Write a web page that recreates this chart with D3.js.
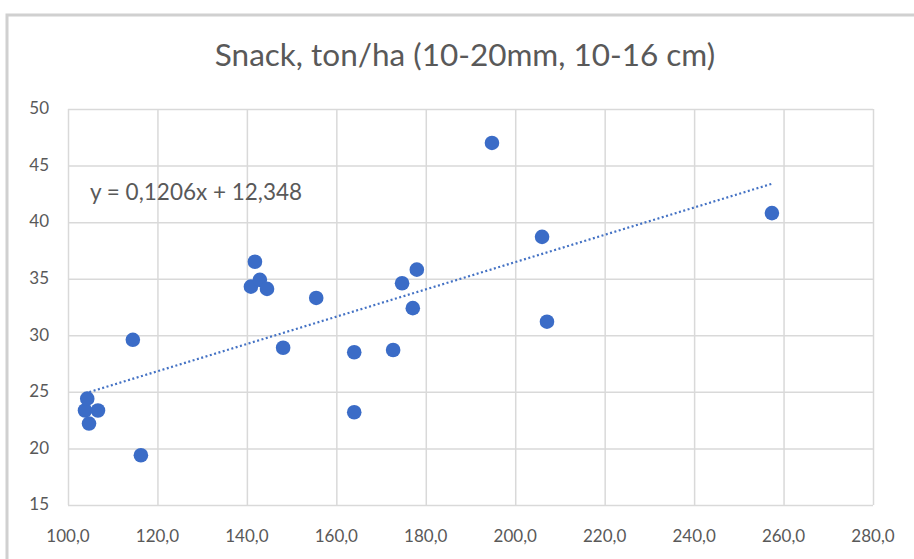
<!DOCTYPE html>
<html>
<head>
  <script src="https://d3js.org/d3.v7.min.js"></script>
  <style>
    body { margin: 0; background: #fff; }
    svg text { font-family: Lato, 'Open Sans', sans-serif; fill: #595959; }
  </style>
</head>
<body>
  <svg id="chart" width="914" height="559"></svg>
  <script>
    // Data
    const xValues = [103.8, 104.3, 104.7, 106.7, 114.5, 116.3, 140.9, 141.8, 142.9, 144.5, 148.1,
                     155.5, 164.0, 164.0, 172.7, 174.7, 177.1, 178.0, 194.8, 206.0, 207.1, 257.4];
    const yValues = [23.35, 24.4, 22.2, 23.35, 29.6, 19.4, 34.3, 36.5, 34.9, 34.1, 28.9,
                     33.3, 28.5, 23.2, 28.7, 34.6, 32.4, 35.8, 47.0, 38.7, 31.2, 40.8];
    const xTicks = [100, 120, 140, 160, 180, 200, 220, 240, 260, 280];
    const yTicks = [15, 20, 25, 30, 35, 40, 45, 50];
    const slope = 0.1206, intercept = 12.348;
    const title = "Snack, ton/ha (10-20mm, 10-16 cm)";
    const equation = "y = 0,1206x + 12,348";

    const svg = d3.select("#chart");
    const plotLeft = 68, plotRight = 873, plotTop = 109, plotBottom = 505;

    const x = d3.scaleLinear().domain([100, 280]).range([plotLeft, plotRight]);
    const y = d3.scaleLinear().domain([15, 50]).range([plotBottom, plotTop]);
    const fmt = d => d.toFixed(1).replace(".", ",");

    // chart frame (only top/left visible in the picture)
    svg.append("path")
      .attr("d", "M7,570 L7,15 L920,15")
      .attr("fill", "none")
      .attr("stroke", "#d0d0d0")
      .attr("stroke-width", 3);

    // gridlines
    svg.append("g")
      .attr("transform", `translate(0,${plotBottom})`)
      .call(d3.axisBottom(x).tickValues(xTicks).tickSize(-(plotBottom - plotTop)).tickFormat(""))
      .call(g => g.select(".domain").remove())
      .call(g => g.selectAll("line").attr("stroke", "#d9d9d9").attr("stroke-width", 1.5));

    svg.append("g")
      .attr("transform", `translate(${plotLeft},0)`)
      .call(d3.axisLeft(y).tickValues(yTicks).tickSize(-(plotRight - plotLeft)).tickFormat(""))
      .call(g => g.select(".domain").remove())
      .call(g => g.selectAll("line").attr("stroke", "#d9d9d9").attr("stroke-width", 1.5));

    // tick labels
    svg.append("g").selectAll("text")
      .data(yTicks)
      .enter().append("text")
      .attr("x", 49)
      .attr("y", d => y(d) + 1)
      .attr("text-anchor", "end")
      .attr("dominant-baseline", "middle")
      .attr("font-size", 17)
      .text(d => d);

    svg.append("g").selectAll("text")
      .data(xTicks)
      .enter().append("text")
      .attr("x", d => x(d))
      .attr("y", 538)
      .attr("text-anchor", "middle")
      .attr("dominant-baseline", "middle")
      .attr("font-size", 17)
      .text(fmt);

    // trendline
    const x0 = d3.min(xValues), x1 = d3.max(xValues);
    svg.append("line")
      .attr("x1", x(x0)).attr("y1", y(slope * x0 + intercept))
      .attr("x2", x(x1)).attr("y2", y(slope * x1 + intercept))
      .attr("stroke", "#4472c4")
      .attr("stroke-width", 2.2)
      .attr("stroke-dasharray", "2,2.5");

    // points
    svg.append("g").selectAll("circle")
      .data(xValues.map((v, i) => [v, yValues[i]]))
      .enter().append("circle")
      .attr("cx", d => x(d[0]))
      .attr("cy", d => y(d[1]))
      .attr("r", 7.3)
      .attr("fill", "#3b6cc7");

    // title and equation
    svg.append("text")
      .attr("x", 465)
      .attr("y", 58)
      .attr("text-anchor", "middle")
      .attr("dominant-baseline", "middle")
      .attr("font-size", 31.5)
      .text(title);

    svg.append("text")
      .attr("x", 90)
      .attr("y", 194)
      .attr("dominant-baseline", "middle")
      .attr("font-size", 22.5)
      .text(equation);
  </script>
</body>
</html>
